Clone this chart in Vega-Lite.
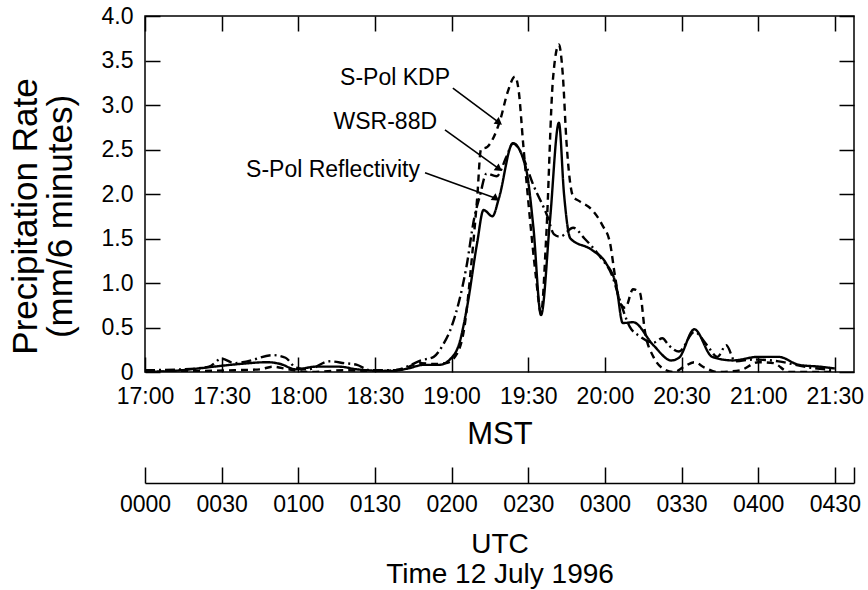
{
  "$schema": "https://vega.github.io/schema/vega-lite/v6.json",
  "width": 709,
  "height": 356,
  "autosize": {"type": "none"},
  "padding": {"left": 145, "top": 16, "right": 14, "bottom": 218},
  "background": "white",
  "config": {
    "view": {"stroke": "black", "strokeWidth": 1.5},
    "font": "Liberation Sans",
    "axis": {
      "grid": false,
      "domain": false,
      "labelFont": "Liberation Sans",
      "labelFontSize": 23,
      "labelColor": "black",
      "tickColor": "black",
      "tickWidth": 1.5,
      "domainColor": "black",
      "domainWidth": 1.5,
      "titleFont": "Liberation Sans",
      "titleFontWeight": "normal",
      "titleColor": "black"
    }
  },
  "datasets": {
    "series": [
      {"series": "S-Pol Reflectivity", "t": 0, "v": 0.0},
      {"series": "S-Pol Reflectivity", "t": 10, "v": 0.01},
      {"series": "S-Pol Reflectivity", "t": 24, "v": 0.05},
      {"series": "S-Pol Reflectivity", "t": 30, "v": 0.07},
      {"series": "S-Pol Reflectivity", "t": 37, "v": 0.09},
      {"series": "S-Pol Reflectivity", "t": 48, "v": 0.11},
      {"series": "S-Pol Reflectivity", "t": 53, "v": 0.09},
      {"series": "S-Pol Reflectivity", "t": 59, "v": 0.03},
      {"series": "S-Pol Reflectivity", "t": 67, "v": 0.06},
      {"series": "S-Pol Reflectivity", "t": 76, "v": 0.06},
      {"series": "S-Pol Reflectivity", "t": 83, "v": 0.03},
      {"series": "S-Pol Reflectivity", "t": 96, "v": 0.01},
      {"series": "S-Pol Reflectivity", "t": 103, "v": 0.04},
      {"series": "S-Pol Reflectivity", "t": 109, "v": 0.08},
      {"series": "S-Pol Reflectivity", "t": 115, "v": 0.08},
      {"series": "S-Pol Reflectivity", "t": 120, "v": 0.16},
      {"series": "S-Pol Reflectivity", "t": 123, "v": 0.32},
      {"series": "S-Pol Reflectivity", "t": 126, "v": 0.72},
      {"series": "S-Pol Reflectivity", "t": 130, "v": 1.45},
      {"series": "S-Pol Reflectivity", "t": 132.5, "v": 1.82},
      {"series": "S-Pol Reflectivity", "t": 136, "v": 1.75},
      {"series": "S-Pol Reflectivity", "t": 138.5, "v": 1.95},
      {"series": "S-Pol Reflectivity", "t": 144, "v": 2.57},
      {"series": "S-Pol Reflectivity", "t": 149, "v": 2.3},
      {"series": "S-Pol Reflectivity", "t": 152, "v": 1.63},
      {"series": "S-Pol Reflectivity", "t": 155, "v": 0.64},
      {"series": "S-Pol Reflectivity", "t": 158.5, "v": 1.7},
      {"series": "S-Pol Reflectivity", "t": 162, "v": 2.8},
      {"series": "S-Pol Reflectivity", "t": 164, "v": 2.0},
      {"series": "S-Pol Reflectivity", "t": 166.5, "v": 1.5},
      {"series": "S-Pol Reflectivity", "t": 175, "v": 1.37},
      {"series": "S-Pol Reflectivity", "t": 180.5, "v": 1.22},
      {"series": "S-Pol Reflectivity", "t": 184.5, "v": 0.96},
      {"series": "S-Pol Reflectivity", "t": 187, "v": 0.55},
      {"series": "S-Pol Reflectivity", "t": 191, "v": 0.56},
      {"series": "S-Pol Reflectivity", "t": 199, "v": 0.3},
      {"series": "S-Pol Reflectivity", "t": 206, "v": 0.13},
      {"series": "S-Pol Reflectivity", "t": 209, "v": 0.16},
      {"series": "S-Pol Reflectivity", "t": 215, "v": 0.48},
      {"series": "S-Pol Reflectivity", "t": 222, "v": 0.17},
      {"series": "S-Pol Reflectivity", "t": 230, "v": 0.13},
      {"series": "S-Pol Reflectivity", "t": 240, "v": 0.17},
      {"series": "S-Pol Reflectivity", "t": 248, "v": 0.17},
      {"series": "S-Pol Reflectivity", "t": 256, "v": 0.08},
      {"series": "S-Pol Reflectivity", "t": 264, "v": 0.06},
      {"series": "S-Pol Reflectivity", "t": 270, "v": 0.04},

      {"series": "S-Pol KDP", "t": 0, "v": 0.0},
      {"series": "S-Pol KDP", "t": 20, "v": 0.01},
      {"series": "S-Pol KDP", "t": 35, "v": 0.02},
      {"series": "S-Pol KDP", "t": 45, "v": 0.03},
      {"series": "S-Pol KDP", "t": 50, "v": 0.06},
      {"series": "S-Pol KDP", "t": 56, "v": 0.03},
      {"series": "S-Pol KDP", "t": 65, "v": 0.0},
      {"series": "S-Pol KDP", "t": 78, "v": 0.02},
      {"series": "S-Pol KDP", "t": 90, "v": 0.01},
      {"series": "S-Pol KDP", "t": 100, "v": 0.03},
      {"series": "S-Pol KDP", "t": 108, "v": 0.1},
      {"series": "S-Pol KDP", "t": 113, "v": 0.09},
      {"series": "S-Pol KDP", "t": 118, "v": 0.1},
      {"series": "S-Pol KDP", "t": 122, "v": 0.2},
      {"series": "S-Pol KDP", "t": 125, "v": 0.5},
      {"series": "S-Pol KDP", "t": 128, "v": 1.3},
      {"series": "S-Pol KDP", "t": 130, "v": 1.95},
      {"series": "S-Pol KDP", "t": 131.5, "v": 2.5},
      {"series": "S-Pol KDP", "t": 134, "v": 2.53},
      {"series": "S-Pol KDP", "t": 139, "v": 2.83},
      {"series": "S-Pol KDP", "t": 142, "v": 3.15},
      {"series": "S-Pol KDP", "t": 144.8, "v": 3.32},
      {"series": "S-Pol KDP", "t": 146.3, "v": 3.15},
      {"series": "S-Pol KDP", "t": 148, "v": 2.57},
      {"series": "S-Pol KDP", "t": 150.6, "v": 1.74},
      {"series": "S-Pol KDP", "t": 153, "v": 1.07},
      {"series": "S-Pol KDP", "t": 155, "v": 0.66},
      {"series": "S-Pol KDP", "t": 157, "v": 1.5},
      {"series": "S-Pol KDP", "t": 159.7, "v": 3.3},
      {"series": "S-Pol KDP", "t": 162, "v": 3.68},
      {"series": "S-Pol KDP", "t": 163.5, "v": 3.35},
      {"series": "S-Pol KDP", "t": 165, "v": 2.57},
      {"series": "S-Pol KDP", "t": 167.6, "v": 1.97},
      {"series": "S-Pol KDP", "t": 170, "v": 1.92},
      {"series": "S-Pol KDP", "t": 175, "v": 1.82},
      {"series": "S-Pol KDP", "t": 179, "v": 1.65},
      {"series": "S-Pol KDP", "t": 182, "v": 1.45},
      {"series": "S-Pol KDP", "t": 184, "v": 1.07},
      {"series": "S-Pol KDP", "t": 186, "v": 0.77},
      {"series": "S-Pol KDP", "t": 188, "v": 0.72},
      {"series": "S-Pol KDP", "t": 191, "v": 0.93},
      {"series": "S-Pol KDP", "t": 193.7, "v": 0.89},
      {"series": "S-Pol KDP", "t": 195.6, "v": 0.47},
      {"series": "S-Pol KDP", "t": 199, "v": 0.17},
      {"series": "S-Pol KDP", "t": 204, "v": 0.02},
      {"series": "S-Pol KDP", "t": 207, "v": 0.0},
      {"series": "S-Pol KDP", "t": 211, "v": 0.06},
      {"series": "S-Pol KDP", "t": 215, "v": 0.11},
      {"series": "S-Pol KDP", "t": 219, "v": 0.05},
      {"series": "S-Pol KDP", "t": 224, "v": 0.0},
      {"series": "S-Pol KDP", "t": 233, "v": 0.02},
      {"series": "S-Pol KDP", "t": 240, "v": 0.11},
      {"series": "S-Pol KDP", "t": 246, "v": 0.1},
      {"series": "S-Pol KDP", "t": 252, "v": 0.0},
      {"series": "S-Pol KDP", "t": 270, "v": 0.0},

      {"series": "WSR-88D", "t": 0, "v": 0.02},
      {"series": "WSR-88D", "t": 15, "v": 0.03},
      {"series": "WSR-88D", "t": 25, "v": 0.06},
      {"series": "WSR-88D", "t": 30, "v": 0.15},
      {"series": "WSR-88D", "t": 35, "v": 0.1},
      {"series": "WSR-88D", "t": 40, "v": 0.12},
      {"series": "WSR-88D", "t": 50, "v": 0.19},
      {"series": "WSR-88D", "t": 55, "v": 0.16},
      {"series": "WSR-88D", "t": 59, "v": 0.05},
      {"series": "WSR-88D", "t": 64, "v": 0.03},
      {"series": "WSR-88D", "t": 72, "v": 0.12},
      {"series": "WSR-88D", "t": 78, "v": 0.1},
      {"series": "WSR-88D", "t": 83, "v": 0.08},
      {"series": "WSR-88D", "t": 88, "v": 0.02},
      {"series": "WSR-88D", "t": 98, "v": 0.02},
      {"series": "WSR-88D", "t": 104, "v": 0.08},
      {"series": "WSR-88D", "t": 108, "v": 0.13},
      {"series": "WSR-88D", "t": 113, "v": 0.17},
      {"series": "WSR-88D", "t": 116.5, "v": 0.3},
      {"series": "WSR-88D", "t": 120, "v": 0.51},
      {"series": "WSR-88D", "t": 125.8, "v": 1.18},
      {"series": "WSR-88D", "t": 129, "v": 1.75},
      {"series": "WSR-88D", "t": 131, "v": 1.97},
      {"series": "WSR-88D", "t": 133.7, "v": 2.23},
      {"series": "WSR-88D", "t": 137.6, "v": 2.2},
      {"series": "WSR-88D", "t": 141.5, "v": 2.42},
      {"series": "WSR-88D", "t": 144, "v": 2.57},
      {"series": "WSR-88D", "t": 146.7, "v": 2.49},
      {"series": "WSR-88D", "t": 152, "v": 2.1},
      {"series": "WSR-88D", "t": 157.5, "v": 1.75},
      {"series": "WSR-88D", "t": 160, "v": 1.55},
      {"series": "WSR-88D", "t": 162.4, "v": 1.52},
      {"series": "WSR-88D", "t": 167.6, "v": 1.62},
      {"series": "WSR-88D", "t": 172, "v": 1.5},
      {"series": "WSR-88D", "t": 178, "v": 1.3},
      {"series": "WSR-88D", "t": 183, "v": 1.07},
      {"series": "WSR-88D", "t": 185.8, "v": 0.81},
      {"series": "WSR-88D", "t": 189.7, "v": 0.51},
      {"series": "WSR-88D", "t": 193.7, "v": 0.4},
      {"series": "WSR-88D", "t": 199, "v": 0.33},
      {"series": "WSR-88D", "t": 202.5, "v": 0.38},
      {"series": "WSR-88D", "t": 205, "v": 0.3},
      {"series": "WSR-88D", "t": 209, "v": 0.23},
      {"series": "WSR-88D", "t": 215, "v": 0.45},
      {"series": "WSR-88D", "t": 220, "v": 0.3},
      {"series": "WSR-88D", "t": 224, "v": 0.17},
      {"series": "WSR-88D", "t": 227.5, "v": 0.3},
      {"series": "WSR-88D", "t": 231, "v": 0.12},
      {"series": "WSR-88D", "t": 238, "v": 0.14},
      {"series": "WSR-88D", "t": 248, "v": 0.12},
      {"series": "WSR-88D", "t": 258, "v": 0.06},
      {"series": "WSR-88D", "t": 270, "v": 0.02}
    ],
    "arrows": [
      {"label": "S-Pol KDP", "t1": 120.5, "v1": 3.19, "t2": 138.2, "v2": 2.81},
      {"label": "WSR-88D", "t1": 117.4, "v1": 2.72, "t2": 138.2, "v2": 2.29},
      {"label": "S-Pol Reflectivity", "t1": 109.6, "v1": 2.24, "t2": 137.0, "v2": 1.955}
    ],
    "labels": [
      {"label": "S-Pol KDP", "t": 119.4, "v": 3.3},
      {"label": "WSR-88D", "t": 114.3, "v": 2.81},
      {"label": "S-Pol Reflectivity", "t": 107.6, "v": 2.27}
    ]
  },
  "layer": [
    {
      "data": {"name": "series"},
      "mark": {"type": "line", "color": "black", "strokeWidth": 2.4, "interpolate": "monotone", "clip": true},
      "encoding": {
        "x": {
          "field": "t", "type": "quantitative",
          "scale": {"domain": [0, 277.5], "nice": false, "zero": false},
          "axis": {
            "orient": "bottom",
            "values": [0, 30, 60, 90, 120, 150, 180, 210, 240, 270],
            "tickSize": -15,
            "labelPadding": 28,
            "labelFlush": false,
            "labelExpr": "(17 + floor(datum.value / 60)) + ':' + (datum.value % 60 == 0 ? '00' : '30')",
            "title": "MST",
            "titleFontSize": 31,
            "titleX": 354.5,
            "titleY": 71,
            "titleAlign": "center",
            "titleBaseline": "alphabetic"
          }
        },
        "y": {
          "field": "v", "type": "quantitative",
          "scale": {"domain": [0, 4], "nice": false},
          "axis": {
            "orient": "left",
            "values": [0, 0.5, 1, 1.5, 2, 2.5, 3, 3.5, 4],
            "tickSize": -15,
            "labelPadding": 27,
            "labelExpr": "datum.value == 0 ? '0' : format(datum.value, '.1f')",
            "title": ["Precipitation Rate", "(mm/6 minutes)"],
            "titleFontSize": 35,
            "titleLineHeight": 35,
            "titleAngle": -90,
            "titleX": -120,
            "titleY": 200,
            "titleAlign": "center",
            "titleBaseline": "middle"
          }
        },
        "detail": {"field": "series", "type": "nominal"},
        "strokeDash": {
          "field": "series", "type": "nominal",
          "scale": {"domain": ["S-Pol Reflectivity", "S-Pol KDP", "WSR-88D"], "range": [[1, 0], [7, 5], [10, 4, 2, 4]]},
          "legend": null
        }
      }
    },
    {
      "data": {"name": "arrows"},
      "mark": {"type": "rule", "color": "black", "strokeWidth": 1.6},
      "encoding": {
        "x": {
          "field": "t1", "type": "quantitative",
          "scale": {"domain": [0, 277.5], "nice": false, "zero": false},
          "axis": {"orient": "top", "values": [0, 30, 60, 90, 120, 150, 180, 210, 240, 270], "tickSize": -15, "labels": false, "title": null}
        },
        "y": {
          "field": "v1", "type": "quantitative",
          "scale": {"domain": [0, 4], "nice": false},
          "axis": {"orient": "right", "values": [0, 0.5, 1, 1.5, 2, 2.5, 3, 3.5, 4], "tickSize": -15, "labels": false, "title": null}
        },
        "x2": {"field": "t2"},
        "y2": {"field": "v2"}
      }
    },
    {
      "data": {"name": "arrows"},
      "mark": {"type": "point", "shape": "triangle", "filled": true, "color": "black", "size": 70, "opacity": 1},
      "encoding": {
        "x": {"field": "t2", "type": "quantitative", "scale": {"domain": [0, 277.5], "nice": false, "zero": false}, "axis": null},
        "y": {"field": "v2", "type": "quantitative", "scale": {"domain": [0, 4], "nice": false}, "axis": null},
        "angle": {
          "field": "label", "type": "nominal",
          "scale": {"domain": ["S-Pol KDP", "WSR-88D", "S-Pol Reflectivity"], "range": [127, 125.6, 109.7]},
          "legend": null
        }
      }
    },
    {
      "data": {"name": "labels"},
      "mark": {"type": "text", "align": "right", "baseline": "middle", "fontSize": 23, "font": "Liberation Sans", "color": "black"},
      "encoding": {
        "x": {
          "field": "t", "type": "quantitative",
          "scale": {"domain": [0, 277.5], "nice": false, "zero": false},
          "axis": {
            "orient": "bottom",
            "offset": 111,
            "domain": true,
            "values": [0, 30, 60, 90, 120, 150, 180, 210, 240, 270, 277.5],
            "tickSize": -16,
            "labelPadding": 26,
            "labelFlush": false,
            "labelExpr": "datum.value > 271 ? '' : '0' + floor(datum.value / 60) + (datum.value % 60 == 0 ? '00' : '30')",
            "title": ["UTC", "Time 12 July 1996"],
            "titleFontSize": 28,
            "titleLineHeight": 30,
            "titleX": 354.5,
            "titleY": 69,
            "titleAlign": "center",
            "titleBaseline": "alphabetic"
          }
        },
        "y": {"field": "v", "type": "quantitative", "scale": {"domain": [0, 4], "nice": false}, "axis": null},
        "text": {"field": "label", "type": "nominal"}
      }
    }
  ],
  "resolve": {"axis": {"x": "independent", "y": "independent"}}
}
